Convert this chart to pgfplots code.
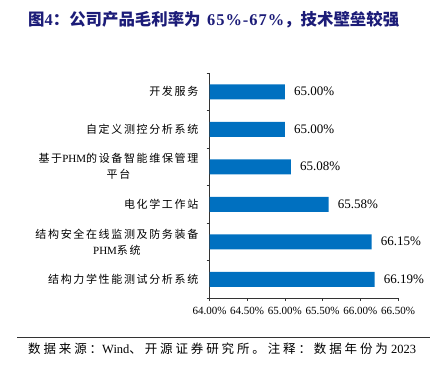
\documentclass[border=0pt]{standalone}
\usepackage{pgfplots}
\pgfplotsset{compat=1.18}
\usepackage{fontspec}
\setmainfont{Liberation Serif}
\newfontfamily\cjk[LetterSpace=15]{Noto Sans CJK SC}
\newfontfamily\cjks[LetterSpace=23]{Noto Sans CJK SC}
\newfontfamily\cjkt{Noto Sans CJK SC}
\newfontfamily\latb[LetterSpace=6]{Liberation Serif}
\definecolor{barblue}{RGB}{0,112,192}
\definecolor{titleblue}{RGB}{28,28,120}
\begin{document}
\begin{tikzpicture}[x=1bp,y=1bp]
\path[use as bounding box] (0,0) rectangle (437,365);
\node[anchor=west,inner sep=0pt,text=titleblue,font=\fontsize{15bp}{18bp}\selectfont\bfseries] at (28,345)
  {\resizebox{371bp}{!}{{\cjkt 图}4{\cjkt ：公司产品毛利率为}\hspace{6bp}{\latb 65\%-67\%}{\cjkt ，技术壁垒较强}}};
\begin{axis}[
  at={(209.5bp,67bp)}, anchor=south west, scale only axis,
  width=188.5bp, height=225bp,
  xbar, bar width=15bp,
  xmin=64, xmax=66.5, ymin=0.5, ymax=6.5, y dir=reverse,
  axis x line*=bottom, axis y line*=left,
  axis line style={-, draw=black!80, line width=0.6bp},
  tick align=outside, major tick length=3bp,
  tick style={draw=black!80, line width=0.6bp},
  /pgf/number format/assume math mode=true,
  xtick={64,64.5,65,65.5,66,66.5},
  xticklabels={64.00\%,64.50\%,65.00\%,65.50\%,66.00\%,66.50\%},
  xticklabel style={font=\fontsize{11bp}{13bp}\selectfont, inner sep=0pt, yshift=-6bp},
  ytick={0.5,1.5,2.5,3.5,4.5,5.5,6.5},
  yticklabels={,,,,,,},
  extra y ticks={1,2,3,4,5,6},
  extra y tick labels={
    {\cjk 开发服务},
    {\cjk 自定义测控分析系统},
    {{\cjk 基于}PHM{\cjk 的设备智能维保管理}\\{\cjk 平台}},
    {\cjk 电化学工作站},
    {{\cjk 结构安全在线监测及防务装备}\\PHM{\cjk 系统}},
    {\cjk 结构力学性能测试分析系统}},
  extra y tick style={major tick length=0pt,
    tick label style={align=center, inner sep=0pt, xshift=-11bp,
      font=\fontsize{11bp}{16bp}\selectfont}},
  nodes near coords={\pgfmathprintnumber[fixed,fixed zerofill,precision=2]{\pgfplotspointmeta}\%},
  nodes near coords style={anchor=west, inner sep=0pt, xshift=9bp,
    font=\fontsize{13bp}{15bp}\selectfont, text=black},
]
\addplot[fill=barblue, draw=none] coordinates {
  (65.00,1) (65.00,2) (65.08,3) (65.58,4) (66.15,5) (66.19,6)};
\end{axis}
\draw[black!80, line width=0.8bp] (17,28) -- (430,28);
\node[anchor=west, inner sep=0pt, font=\fontsize{12.5bp}{15bp}\selectfont] at (28,16)
  {{\cjks 数据来源：}Wind{\cjks 、开源证券研究所。注释：数据年份为} 2023};
\end{tikzpicture}
\end{document}
